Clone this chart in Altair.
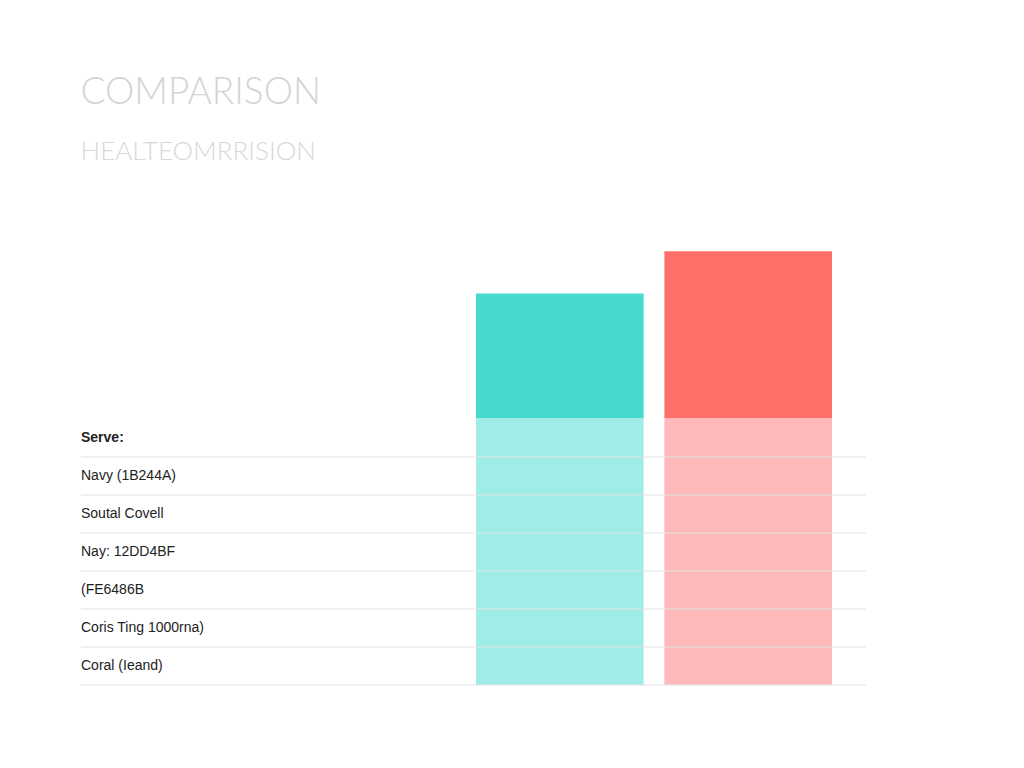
import altair as alt
import pandas as pd

# ---- data ----
categories = ["Teal", "Coral"]
base_values = [60, 60]          # lighter lower section
total_values = [88, 97.5]       # full bar height
dark_colors = ["#46DACF", "#FF6F69"]
light_colors = ["#A0EDE7", "#FFB9BA"]

row_labels = ["Serve:", "Navy (1B244A)", "Soutal Covell", "Nay: 12DD4BF",
              "(FE6486B", "Coris Ting 1000rna)", "Coral (Ieand)"]
row_bold = [True, False, False, False, False, False, False]

title_text = "COMPARISON"
subtitle_text = "HEALTEOMRRISION"

# ---- tables ----
bars = pd.DataFrame({
    "cat": categories,
    "base": base_values,
    "total": total_values,
    "dark": dark_colors,
    "light": light_colors,
})
bars["zero"] = 0

n = len(row_labels)
rows = pd.DataFrame({
    "label": row_labels,
    "bold": row_bold,
    "pos": [n - i - 0.5 for i in range(n)],
})
lines = pd.DataFrame({"pos": list(range(n))})

W, H = 785, 445
row_px = 38
row_domain = [0, H / row_px]

xscale = alt.Scale(domain=categories, range=[395, 751], paddingInner=0.11, paddingOuter=0)
yscale = alt.Scale(domain=[0, 100], nice=False, zero=True)
rscale = alt.Scale(domain=row_domain, nice=False, zero=True)

light_bar = alt.Chart(bars).mark_bar(cornerRadius=0).encode(
    x=alt.X("cat:N", scale=xscale, axis=None, sort=categories),
    y=alt.Y("zero:Q", scale=yscale, axis=None),
    y2="base:Q",
    color=alt.Color("light:N", scale=None),
)
dark_bar = alt.Chart(bars).mark_bar(cornerRadius=0).encode(
    x=alt.X("cat:N", scale=xscale, axis=None, sort=categories),
    y=alt.Y("base:Q", scale=yscale, axis=None),
    y2="total:Q",
    color=alt.Color("dark:N", scale=None),
)
bars_layer = alt.layer(light_bar, dark_bar)

rule_layer = alt.Chart(lines).mark_rule(color="#e4e4e4", strokeWidth=1).encode(
    x=alt.value(0), x2=alt.value(W),
    y=alt.Y("pos:Q", scale=rscale, axis=None),
)
text_normal = alt.Chart(rows).transform_filter("!datum.bold").mark_text(
    align="left", baseline="middle", font="Liberation Sans", fontSize=14, color="#222222"
).encode(
    x=alt.value(0),
    y=alt.Y("pos:Q", scale=rscale, axis=None),
    text="label:N",
)
text_bold = alt.Chart(rows).transform_filter("datum.bold").mark_text(
    align="left", baseline="middle", font="Liberation Sans", fontSize=14,
    fontWeight="bold", color="#222222"
).encode(
    x=alt.value(0),
    y=alt.Y("pos:Q", scale=rscale, axis=None),
    text="label:N",
)
table_layer = alt.layer(rule_layer, text_normal, text_bold)

chart = alt.layer(bars_layer, table_layer).resolve_scale(y="independent").properties(
    width=W, height=H,
    background="white",
    padding={"left": 72, "top": 66, "right": 10, "bottom": 10},
    title=alt.TitleParams(
        text=title_text,
        subtitle=subtitle_text,
        anchor="start",
        font="Lato",
        fontWeight=300,
        fontSize=37,
        color="#d4d4d4",
        subtitleFont="Lato",
        subtitleFontWeight=300,
        subtitleFontSize=26,
        subtitleColor="#d8d8d8",
        subtitlePadding=27,
        offset=74,
    ),
).configure_view(stroke=None)

chart.save("out.html", embed_options={"renderer": "svg", "actions": False})
